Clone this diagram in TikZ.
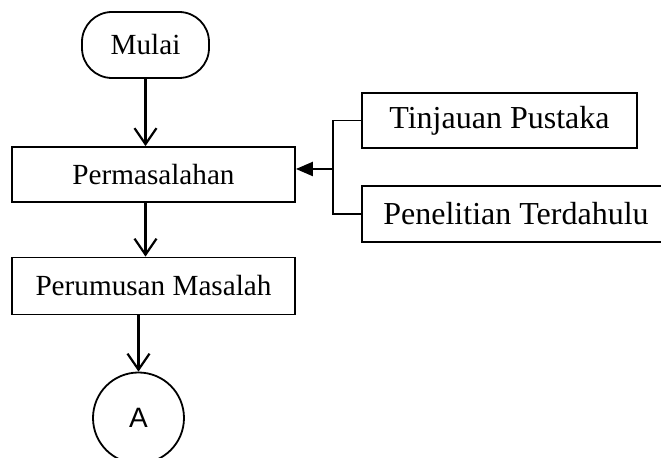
\documentclass[tikz,border=0pt]{standalone}
\usepackage{fontspec}
\setmainfont{Liberation Serif}
\newfontfamily\arialfont{Liberation Sans}
\usetikzlibrary{arrows.meta}
\begin{document}
\begin{tikzpicture}[x=0.5pt,y=-0.5pt,line width=0.9pt,
    box/.style={draw,rectangle,inner sep=0pt,font=\fontsize{14.6}{17}\selectfont},
    sidebox/.style={draw,rectangle,inner sep=0pt,font=\fontsize{16}{19}\selectfont},
    flow/.style={line width=1.1pt,-{Straight Barb[length=8pt,width=11pt,line width=1.1pt]}},
    feed/.style={line width=1.1pt,-{Triangle[length=8.5pt,width=7pt]}}]
  \useasboundingbox (0,0) rectangle (661,458);
  \node[box,rounded corners=15pt,minimum width=63.5pt,minimum height=33pt] (mulai) at (145.5,45) {Mulai};
  \node[box,minimum width=141.5pt,minimum height=27.5pt] (masalah) at (153.5,174.5) {Permasalahan};
  \node[box,minimum width=141.5pt,minimum height=28.5pt] (rumusan) at (153.5,286) {Perumusan Masalah};
  \node[draw,circle,inner sep=0pt,minimum size=45.5pt,font=\arialfont\fontsize{14}{16}\selectfont] (a) at (138.5,418) {A};
  \node[sidebox,minimum width=137.5pt,minimum height=27.5pt] (tinjauan) at (499.5,120.5) {Tinjauan Pustaka};
  \node[sidebox,minimum width=154pt,minimum height=28pt] (penelitian) at (516,214) {Penelitian Terdahulu};
  \coordinate (join) at (333,169);
  \draw (tinjauan.west) -- (tinjauan.west -| join) -- (penelitian.west -| join) -- (penelitian.west);
  \draw[feed] (join) -- (join -| masalah.east);
  \draw[flow] (mulai.south) -- (masalah.north -| mulai);
  \draw[flow] (masalah.south -| mulai) -- (rumusan.north -| mulai);
  \draw[flow] (rumusan.south -| a) -- (a.north);
\end{tikzpicture}
\end{document}
